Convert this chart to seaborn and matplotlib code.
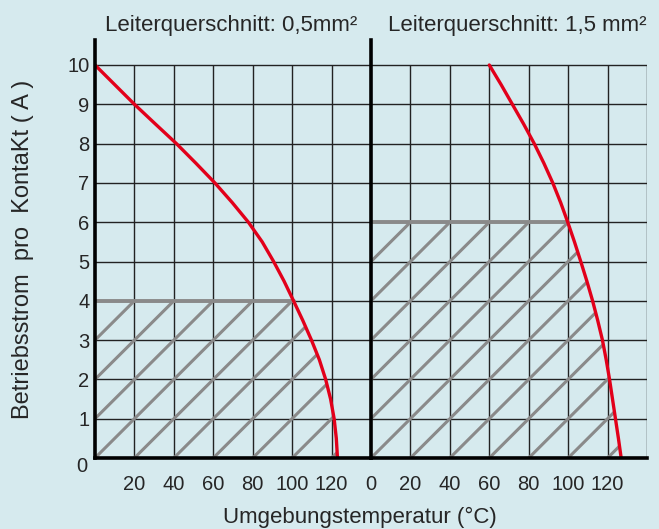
import numpy as np
import pandas as pd
import matplotlib
matplotlib.use("Agg")
import matplotlib.pyplot as plt
import seaborn as sns
from matplotlib.patches import Polygon

BG = "#d6eaee"
RED = "#e2001a"
HATCH = "#8a8a8a"
GRID = "#222222"

# derating curves (temperature in °C, current in A)
temp_05 = [0, 10, 20, 30.6, 41.3, 51.2, 60.8, 69.6, 77.8, 84.8, 90.6,
           95.9, 100.7, 105.4, 109.8, 113.8, 117.0, 119.5, 121.3, 122.4, 123]
curr_05 = [10, 9.5, 9, 8.5, 8, 7.5, 7, 6.5, 6, 5.5, 5,
           4.5, 4, 3.5, 3, 2.5, 2, 1.5, 1, 0.5, 0]
temp_15 = [60, 66.0, 71.7, 77.4, 82.8, 87.7, 92.2, 96.2, 99.8, 103.2, 106.4,
           109.5, 112.4, 115.0, 117.4, 119.3, 121.0, 122.5, 124.0, 125.5, 126.9]
curr_15 = [10, 9.5, 9, 8.5, 8, 7.5, 7, 6.5, 6, 5.5, 5,
           4.5, 4, 3.5, 3, 2.5, 2, 1.5, 1, 0.5, 0]

# upper limit of the hatched (permitted) area
cap_05 = 4
cap_15 = 6

titles = ["Leiterquerschnitt: 0,5mm²", "Leiterquerschnitt: 1,5 mm²"]
xticks_left = [20, 40, 60, 80, 100, 120]
xticks_right = [0, 20, 40, 60, 80, 100, 120]
yticks = [1, 2, 3, 4, 5, 6, 7, 8, 9, 10]
x_max = 140
y_max = 10

sns.set_theme(style="white")
plt.rcParams["font.family"] = ["Liberation Sans", "DejaVu Sans"]

W, H = 659, 529
fig = plt.figure(figsize=(W / 100, H / 100), dpi=100, facecolor=BG)


def px_axes(x0, x1, y_top, y_bot):
    return fig.add_axes([x0 / W, 1 - y_bot / H, (x1 - x0) / W, (y_bot - y_top) / H])


ax_l = px_axes(95, 371, 40, 458)
ax_r = px_axes(371, 647, 40, 458)


def draw_panel(ax, temp, curr, cap, xticks):
    ax.set_facecolor(BG)
    ax.set_xlim(0, x_max)
    ax.set_ylim(0, y_max * 418 / 393)

    # grid, only inside the 0..140 / 0..10 box
    for gx in range(20, x_max + 1, 20):
        ax.vlines(gx, 0, y_max, color=GRID, lw=1.0, zorder=1)
    for gy in range(1, y_max + 1):
        ax.hlines(gy, 0, x_max, color=GRID, lw=1.0, zorder=1)

    # hatched area under min(cap, curve)
    x_cap = float(np.interp(cap, curr[::-1], temp[::-1]))
    pts = [(0, 0), (0, cap), (x_cap, cap)]
    pts += [(t, c) for t, c in zip(temp, curr) if c < cap]
    poly = Polygon(pts, closed=True, facecolor="none", edgecolor="none")
    ax.add_patch(poly)
    xs = np.array([0, x_max])
    for k in range(-8, cap + 1):
        line, = ax.plot(xs, xs / 20 + k, color=HATCH, lw=2.2, zorder=2,
                        solid_capstyle="butt")
        line.set_clip_path(poly)
    ax.plot([0, x_cap], [cap, cap], color=HATCH, lw=2.8, zorder=3)

    df = pd.DataFrame({"temp": temp, "curr": curr})
    sns.lineplot(data=df, x="temp", y="curr", color=RED, lw=2.4,
                 estimator=None, sort=False, ax=ax, zorder=4)

    ax.set_xticks(xticks)
    ax.set_xticklabels([str(t) for t in xticks], fontsize=14.5)
    ax.tick_params(axis="x", length=0, pad=12)
    ax.set_xlabel("")
    ax.set_ylabel("")
    for side in ["top", "right"]:
        ax.spines[side].set_visible(False)
    for side in ["left", "bottom"]:
        ax.spines[side].set_visible(True)
        ax.spines[side].set_color("black")
        ax.spines[side].set_linewidth(2.6)
        ax.spines[side].set_zorder(5)


draw_panel(ax_l, temp_05, curr_05, cap_05, xticks_left)
draw_panel(ax_r, temp_15, curr_15, cap_15, xticks_right)

ax_l.set_yticks(yticks)
ax_l.set_yticklabels([str(v) for v in yticks], fontsize=14.5)
ax_l.tick_params(axis="y", length=0, pad=4)
ax_r.set_yticks([])

# the zero of the current axis sits below the corner
fig.text(82 / W, 1 - 467 / H, "0", fontsize=14.5, ha="center", va="center")

fig.text(231 / W, 1 - 31 / H, titles[0], fontsize=16, ha="center", va="baseline")
fig.text(647 / W, 1 - 31 / H, titles[1], fontsize=16, ha="right", va="baseline")

fig.text(360 / W, 1 - 523 / H, "Umgebungstemperatur (°C)", fontsize=16,
         ha="center", va="baseline")
fig.text(23 / W, 1 - 249 / H, "Betriebsstrom  pro  KontaKt ( A )", fontsize=17,
         ha="center", va="center", rotation=90)

fig.savefig("out.png", dpi=100, facecolor=BG)
